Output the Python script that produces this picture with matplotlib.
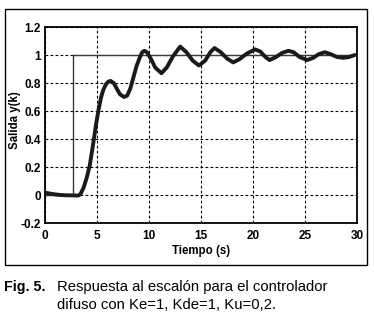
import matplotlib
matplotlib.use("Agg")
import matplotlib.pyplot as plt
from matplotlib.patches import Rectangle

# Step reference
step_t = [0, 2.7, 2.7, 30]
step_y = [0, 0, 1, 1]

# Response y(k)
t = [0, 0.5, 1.0, 1.5, 2.0, 2.7, 3.2, 3.4, 3.7, 4.0, 4.3, 4.6, 4.9, 5.15, 5.4, 5.6, 5.85, 6.1, 6.3,
     6.6, 6.9, 7.2, 7.6, 7.9, 8.2, 8.5, 8.8, 9.1, 9.35, 9.55, 9.8, 10.2, 10.6, 11.2, 11.7, 12.3, 13.0,
     13.6, 14.2, 14.8, 15.4, 15.9, 16.3, 16.9, 17.5, 18.1, 18.7, 19.4, 20.2, 20.7, 21.2, 21.6, 22.2,
     22.8, 23.4, 23.9, 24.5, 25.2, 25.8, 26.3, 26.9, 27.5, 28.1, 28.7, 29.2, 29.8]
y = [0.017, 0.01, 0.004, 0.0, -0.002, -0.003, -0.004, 0.005, 0.05, 0.12, 0.21, 0.35, 0.50, 0.61, 0.70, 0.75,
     0.79, 0.81, 0.815, 0.80, 0.76, 0.72, 0.70, 0.71, 0.76, 0.84, 0.92, 0.98, 1.02, 1.03, 1.02, 0.97,
     0.91, 0.87, 0.91, 0.99, 1.06, 1.02, 0.96, 0.925, 0.96, 1.02, 1.05, 1.02, 0.975, 0.947, 0.97, 1.01,
     1.04, 1.025, 0.985, 0.964, 0.985, 1.015, 1.03, 1.02, 0.985, 0.964, 0.98, 1.005, 1.02, 1.005, 0.985,
     0.98, 0.985, 1.0]

xticks = [0, 5, 10, 15, 20, 25, 30]
yticks = [-0.2, 0, 0.2, 0.4, 0.6, 0.8, 1.0]
ytick_labels = ["-0.2", "0", "0.2", "0.4", "0.6", "0.8", "1", "1.2"]

plt.rcParams['font.family'] = ['Liberation Sans', 'DejaVu Sans']

W, H = 374, 314
fig = plt.figure(figsize=(W / 100, H / 100), dpi=100)
ax = fig.add_axes([45 / W, 1 - 223 / H, (357 - 45) / W, (223 - 27) / H])

ax.plot(step_t, step_y, color='#3a3a3a', lw=1.0, zorder=2)
ax.plot(t, y, color='#1a1a1a', lw=2.8, solid_joinstyle='round', solid_capstyle='round', zorder=3)

ax.set_xlim(0, 30)
ax.set_ylim(-0.2, 1.2)
ax.set_xticks(xticks)
ax.set_yticks(yticks + [1.2])
ax.set_yticklabels(ytick_labels)
ax.tick_params(axis='y', length=0, labelsize=8.5, pad=3)
ax.tick_params(axis='x', length=0, labelsize=8.5, pad=5)
for lab in ax.get_xticklabels() + ax.get_yticklabels():
    lab.set_fontweight('bold')
ax.grid(True, color='black', lw=0.8, linestyle=(0, (2.5, 2)))
for s in ax.spines.values():
    s.set_linewidth(1.3)
ax.set_xlabel('Tiempo (s)', fontsize=8.3, fontweight='bold', labelpad=2)
ax.set_ylabel('Salida y(k)', fontsize=8.3, fontweight='bold')
ax.yaxis.set_label_coords((15 - 45) / 312, (223 - 120) / 196)
ax.yaxis.label.set_va('center')

fig.patches.append(Rectangle((4.5 / W, 1 - 265 / H), (367 - 4.5) / W, (265 - 9) / H,
                             transform=fig.transFigure, fill=False, lw=1.0, edgecolor='black'))

fig.text(4 / W, 1 - 287 / H, 'Fig. 5.', fontsize=10.3, fontweight='bold', va='center', ha='left')
fig.text(57 / W, 1 - 287 / H, 'Respuesta al escalón para el controlador', fontsize=10.7, va='center', ha='left')
fig.text(57 / W, 1 - 305 / H, 'difuso con Ke=1, Kde=1, Ku=0,2.', fontsize=10.7, va='center', ha='left')

fig.savefig('out.png', dpi=100)
